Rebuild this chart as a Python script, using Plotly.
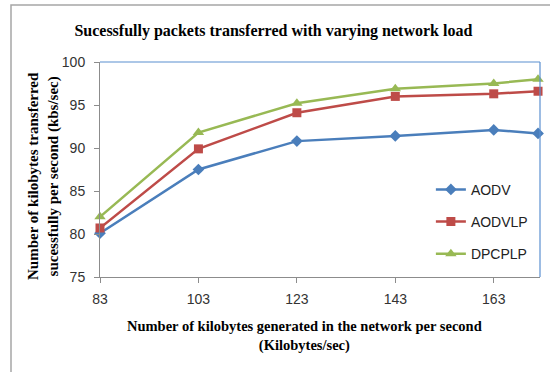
import plotly.graph_objects as go

# Network load (kilobytes generated per second)
load = [83, 103, 123, 143, 163, 172]
tick_vals = [83, 103, 123, 143, 163]

# Kilobytes successfully transferred per second for each protocol
aodv = [80.1, 87.5, 90.8, 91.4, 92.1, 91.7]
aodvlp = [80.7, 89.9, 94.1, 96.0, 96.3, 96.6]
dpcplp = [82.0, 91.8, 95.2, 96.9, 97.5, 98.0]

series = [
    ("AODV", aodv, "#4a7ebb", "diamond", 9),
    ("AODVLP", aodvlp, "#be4b48", "square", 9),
    ("DPCPLP", dpcplp, "#98b954", "triangle-up", 10),
]

fig = go.Figure()
for i, (name, vals, color, symbol, size) in enumerate(series):
    fig.add_trace(go.Scatter(
        x=load, y=vals, name=name, mode="lines+markers",
        line=dict(color=color, width=2.5),
        marker=dict(symbol=symbol, size=size, color=color),
        legendgroup=f"g{i}", cliponaxis=False,
    ))

serif = "Liberation Serif, Times New Roman, serif"
sans = "Liberation Sans, Arial, sans-serif"

fig.update_layout(
    width=550, height=372,
    margin=dict(l=100, r=10, t=62, b=95),
    paper_bgcolor="white", plot_bgcolor="white",
    title=dict(
        text="<b>Sucessfully packets transferred with varying network load</b>",
        x=0.497, xanchor="center", y=1 - 30 / 372, yanchor="middle",
        font=dict(family=serif, size=16, color="#000"),
    ),
    xaxis=dict(
        range=[83, 172.4], tickvals=tick_vals, showgrid=False, zeroline=False,
        showline=True, linecolor="#8c8c8c", linewidth=1,
        ticks="outside", ticklen=5, tickcolor="#8c8c8c",
        tickfont=dict(family=sans, size=14, color="#333"),
        ticklabelstandoff=4,
    ),
    yaxis=dict(
        range=[75, 100], dtick=5, showgrid=False, zeroline=False,
        showline=True, linecolor="#8c8c8c", linewidth=1,
        ticks="outside", ticklen=5, tickcolor="#8c8c8c",
        tickfont=dict(family=sans, size=14, color="#333"),
        ticklabelstandoff=6,
    ),
    legend=dict(
        x=0.752, y=0.48, xanchor="left", yanchor="top",
        bgcolor="rgba(0,0,0,0)", tracegroupgap=11,
        font=dict(family=sans, size=14, color="#222"),
        itemwidth=30,
    ),
    showlegend=True,
)

# Plot-area frame (top and right edges) and the outer chart border
fig.add_shape(type="line", xref="paper", yref="paper", x0=0, x1=1, y0=1, y1=1,
              line=dict(color="#5b8fd0", width=1.2))
fig.add_shape(type="line", xref="paper", yref="paper", x0=1, x1=1, y0=0, y1=1,
              line=dict(color="#5b8fd0", width=1.2))
fig.add_shape(type="rect", xref="paper", yref="paper",
              x0=(11 - 100) / 440, x1=1.2, y0=-0.6, y1=(277 - 5) / 215,
              line=dict(color="#a6a6a6", width=1.5), layer="below")

fig.add_annotation(
    text="<b>Number of kilobytes transferred<br>sucessfully per second (kbs/sec)</b>",
    xref="paper", yref="paper", x=(43 - 100) / 440, y=(277 - 176) / 215,
    xanchor="center", yanchor="middle", textangle=-90, showarrow=False,
    font=dict(family=serif, size=15, color="#000"),
)
fig.add_annotation(
    text="<b>Number of kilobytes generated in the network per second<br>(Kilobytes/sec)</b>",
    xref="paper", yref="paper", x=(304 - 100) / 440, y=(277 - 336) / 215,
    xanchor="center", yanchor="middle", showarrow=False,
    font=dict(family=serif, size=14.5, color="#000"),
)

fig.write_html("out.html")
